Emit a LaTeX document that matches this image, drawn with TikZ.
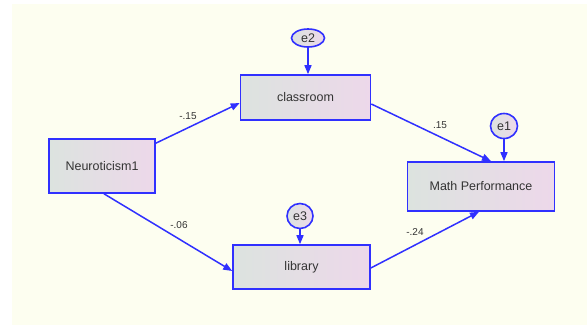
\documentclass[tikz,border=0pt]{standalone}
\usepackage{fontspec}
\setmainfont{Liberation Sans}
\usetikzlibrary{arrows.meta,shapes.geometric,calc}
\definecolor{paper}{HTML}{FDFEF0}
\definecolor{edgeblue}{HTML}{3030FF}
\definecolor{boxleft}{HTML}{DCE3DF}
\definecolor{boxright}{HTML}{EDD8EA}
\definecolor{ink}{HTML}{333333}
\tikzset{
  varbox/.style={draw=edgeblue, line width=1.6pt, left color=boxleft, right color=boxright,
    rectangle, inner sep=0pt, font=\fontsize{12.5}{14}\selectfont, text=ink},
  errnode/.style={draw=edgeblue, line width=1.6pt, left color=boxleft, right color=boxright,
    ellipse, inner sep=0pt, font=\fontsize{12.5}{14}\selectfont, text=ink},
  path/.style={draw=edgeblue, line width=1.5pt, -{Triangle[length=9pt,width=7pt]}},
  coef/.style={font=\fontsize{10}{12}\selectfont, text=ink, inner sep=0pt}
}
\begin{document}
\begin{tikzpicture}[x=1pt,y=-1pt]
  % canvas and its cream drawing area
  \fill[white] (0,0) rectangle (587,325);
  \fill[paper] (12,4) rectangle (587,325);
  \useasboundingbox (0,0) rectangle (587,325);

  % observed variables
  \node[varbox, minimum width=106pt, minimum height=54pt] (neu) at (102,166) {Neuroticism1};
  \node[varbox, minimum width=130pt, minimum height=45pt] (cls) at (305.5,97.5) {classroom};
  \node[varbox, minimum width=137pt, minimum height=44pt] (lib) at (301.5,267) {library};
  \node[varbox, minimum width=147pt, minimum height=49pt] (mp) at (481,186.5) {Math Performance};

  % error terms
  \node[errnode, minimum width=33pt, minimum height=18pt] (e2) at (308,38) {e2};
  \node[errnode, minimum width=27pt, minimum height=25pt] (e1) at (504,126) {e1};
  \node[errnode, minimum width=26pt, minimum height=25pt] (e3) at (300,216) {e3};

  % regression paths
  \draw[path] ([yshift=-5pt]neu.north east) -- ([yshift=-5.5pt]cls.west);
  \draw[path] ([xshift=2pt]neu.south) -- ([yshift=-4pt]lib.west);
  \draw[path] ([yshift=-6.5pt]cls.east) -- ([xshift=10pt]mp.north);
  \draw[path] ([yshift=-1pt]lib.east) -- ([xshift=-2pt]mp.south);

  % error paths
  \draw[path] (e2.south) -- (e2.south |- cls.north);
  \draw[path] (e1.south) -- (e1.south |- mp.north);
  \draw[path] (e3.south) -- (e3.south |- lib.north);

  % path coefficients
  \node[coef] (c1) at (188,116) {-.15};
  \node[coef] (c2) at (440,125.5) {.15};
  \node[coef] (c3) at (179,225.5) {-.06};
  \node[coef] (c4) at (415,232) {-.24};
\end{tikzpicture}
\end{document}
